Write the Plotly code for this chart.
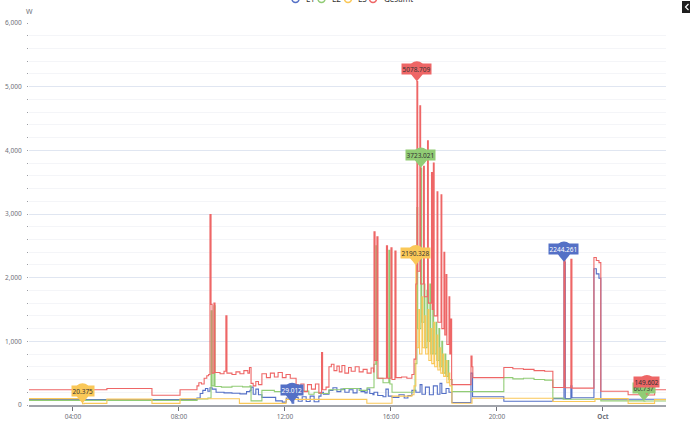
import plotly.graph_objects as go
import pandas as pd

BASE = pd.Timestamp("2023-09-30 00:00")

series_names = ["L1", "L2", "L3", "Gesamt"]
series_colors = ["#5470c6", "#91cc75", "#fac858", "#ee6666"]
label_colors = ["#ffffff", "#333333", "#333333", "#333333"]

# (hour since 30 Sep 00:00, watts) - each value holds until the next sample
l1_points = [
    (2.34, 85), (8.68, 110), (8.80, 180), (8.90, 230), (9.00, 260), (9.09, 215), (9.17, 270),
    (9.25, 250), (9.40, 200), (9.70, 190), (10.00, 185), (10.30, 175), (10.55, 210), (10.68, 230),
    (10.72, 280), (10.80, 170), (10.90, 250), (11.00, 160), (11.13, 120), (11.65, 65), (11.90, 45),
    (12.05, 110), (12.27, 29.012), (12.33, 120), (12.50, 60), (12.65, 130), (12.80, 55), (12.95, 140),
    (13.10, 50), (13.28, 140), (13.36, 200), (13.45, 170), (13.66, 230), (13.81, 270), (13.96, 210),
    (14.11, 250), (14.26, 200), (14.42, 240), (14.57, 190), (14.72, 260), (14.87, 210), (15.02, 190),
    (15.10, 250), (15.20, 180), (15.32, 160), (15.36, 200), (15.50, 150), (15.70, 130), (15.81, 250),
    (15.90, 140), (16.04, 120), (16.30, 160), (16.50, 110), (16.64, 150), (16.79, 230), (16.94, 200),
    (17.10, 320), (17.17, 170), (17.30, 280), (17.45, 160), (17.60, 300), (17.75, 170), (17.85, 340),
    (17.92, 180), (18.08, 260), (18.19, 200), (18.30, 40), (19.02, 500), (19.08, 130), (20.26, 60),
    (22.11, 100), (22.53, 2244.261), (22.58, 100), (22.79, 300), (22.83, 115), (23.66, 2140),
    (23.75, 2060), (23.85, 1990), (23.92, 90), (26.38, 90),
]

l2_points = [
    (2.34, 72), (8.68, 95), (9.09, 110), (9.21, 1480), (9.25, 300), (9.32, 1560), (9.36, 290),
    (9.60, 280), (10.00, 295), (10.40, 285), (10.68, 300), (10.72, 65), (11.13, 230), (11.60, 210),
    (12.00, 225), (12.42, 190), (12.60, 220), (12.90, 170), (13.10, 200), (13.28, 180), (13.66, 240),
    (14.20, 260), (14.80, 230), (15.10, 270), (15.36, 640), (15.43, 2500), (15.47, 420), (15.70, 350),
    (15.92, 2430), (15.96, 330), (16.04, 200), (16.87, 230), (16.91, 650), (16.98, 3100), (17.01, 1200),
    (17.13, 3723.021), (17.16, 1300), (17.25, 1900), (17.28, 900), (17.36, 1800), (17.39, 1000),
    (17.47, 1900), (17.50, 800), (17.58, 1500), (17.61, 800), (17.70, 1300), (17.73, 700),
    (17.81, 1200), (17.84, 600), (17.92, 1000), (17.95, 500), (18.04, 800), (18.07, 450),
    (18.15, 700), (18.18, 400), (18.30, 210), (20.26, 430), (20.60, 410), (21.00, 420), (21.40, 400),
    (21.80, 390), (22.11, 110), (22.50, 90), (23.92, 65), (25.53, 62), (25.55, 60.737), (25.59, 64),
    (26.38, 64),
]

l3_points = [
    (2.34, 100), (4.36, 20.375), (4.42, 25), (5.28, 92), (6.98, 26), (8.04, 98), (10.28, 26),
    (12.04, 88), (15.09, 28), (16.04, 140), (16.79, 160), (16.87, 300), (16.94, 2190.328),
    (16.97, 900), (17.05, 1500), (17.08, 800), (17.17, 1700), (17.20, 900), (17.28, 1400),
    (17.31, 800), (17.40, 1500), (17.43, 700), (17.51, 1200), (17.54, 650), (17.62, 1300),
    (17.65, 600), (17.74, 1100), (17.77, 550), (17.85, 900), (17.88, 500), (17.96, 800),
    (17.99, 450), (18.08, 700), (18.11, 350), (18.19, 500), (18.22, 300), (18.30, 28), (19.06, 105),
    (22.11, 55), (23.70, 100), (24.95, 25), (25.95, 85), (26.38, 85),
]

gesamt_points = [
    (2.34, 240), (5.28, 258), (6.98, 152), (8.04, 240), (8.68, 300), (8.75, 350), (8.85, 330),
    (8.95, 420), (9.05, 460), (9.12, 480), (9.17, 2990), (9.21, 1580), (9.25, 500), (9.32, 1600),
    (9.36, 510), (9.55, 490), (9.70, 530), (9.77, 1400), (9.81, 500), (10.00, 480), (10.15, 520),
    (10.30, 490), (10.45, 540), (10.60, 500), (10.66, 590), (10.72, 340), (10.80, 300), (10.90, 370),
    (11.00, 320), (11.13, 490), (11.30, 430), (11.45, 500), (11.60, 440), (11.74, 510), (11.90, 430),
    (12.04, 480), (12.20, 420), (12.42, 320), (12.50, 240), (12.60, 330), (12.72, 210), (12.85, 320),
    (13.00, 250), (13.15, 330), (13.28, 190), (13.38, 822), (13.42, 240), (13.55, 280), (13.66, 600),
    (13.75, 640), (13.85, 540), (13.96, 610), (14.05, 520), (14.15, 620), (14.26, 500), (14.40, 590),
    (14.50, 530), (14.65, 600), (14.80, 520), (14.95, 560), (15.10, 500), (15.25, 580), (15.34, 520),
    (15.36, 2720), (15.40, 700), (15.47, 2640), (15.51, 420), (15.83, 2500), (15.87, 420),
    (16.00, 2470), (16.04, 400), (16.15, 2420), (16.19, 430), (16.40, 440), (16.60, 420),
    (16.79, 480), (16.87, 720), (16.94, 1900), (16.98, 5078.709), (17.01, 2100), (17.09, 4700),
    (17.12, 1900), (17.23, 3750), (17.26, 1700), (17.38, 4150), (17.41, 1600), (17.53, 3650),
    (17.56, 1500), (17.60, 3800), (17.63, 1400), (17.74, 3350), (17.77, 1300), (17.89, 3300),
    (17.92, 1200), (18.00, 2400), (18.03, 1100), (18.08, 2050), (18.11, 950), (18.19, 1700),
    (18.22, 800), (18.26, 1350), (18.29, 400), (18.30, 320), (19.02, 770), (19.06, 600),
    (19.09, 430), (20.26, 590), (20.60, 570), (21.00, 560), (21.40, 540), (21.80, 530),
    (22.11, 275), (22.53, 2390), (22.57, 270), (22.79, 2290), (22.83, 265), (23.66, 2316),
    (23.75, 2270), (23.85, 2237), (23.92, 215), (24.95, 160), (25.66, 149.602), (25.70, 158),
    (25.95, 240), (26.38, 240),
]

all_points = [l1_points, l2_points, l3_points, gesamt_points]

tick_hours = [4, 8, 12, 16, 20, 24]
tick_texts = ["04:00", "08:00", "12:00", "16:00", "20:00", "<b>Oct</b>"]
x_range_hours = [2.34, 26.38]
y_ticks = [0, 1000, 2000, 3000, 4000, 5000, 6000]


def to_time(h):
    return BASE + pd.to_timedelta(h, unit="h")


# plot area in pixels
L, R, T, B = 29, 666, 23, 405
W_FIG, H_FIG = 690, 427


def px_x(px):
    return (px - L) / (R - L)


def px_y(py):
    return (B - py) / (B - T)


fig = go.Figure()
for name, color, pts in zip(series_names, series_colors, all_points):
    hs = [p[0] for p in pts]
    ws = [p[1] for p in pts]
    fig.add_trace(go.Scatter(
        x=[to_time(h) for h in hs], y=ws, mode="lines", name=name,
        line=dict(color=color, width=1.1, shape="hv"), showlegend=False,
    ))

shapes = []
annotations = []

pin_path = ("M 0 0 C -2 4 -7.5 7 -7.5 13 C -7.5 17.5 -4 20.5 0 20.5 "
            "C 4 20.5 7.5 17.5 7.5 13 C 7.5 7 2 4 0 0 Z")
for color, lcolor, pts in zip(series_colors, label_colors, all_points):
    ws = [p[1] for p in pts]
    for idx in (ws.index(max(ws)), ws.index(min(ws))):
        h, w = pts[idx]
        t = to_time(h).strftime("%Y-%m-%d %H:%M:%S")
        shapes.append(dict(type="path", xref="x", yref="y", xsizemode="pixel", ysizemode="pixel",
                           xanchor=t, yanchor=w, path=pin_path, fillcolor=color,
                           line=dict(width=0), layer="above"))
        annotations.append(dict(x=t, y=w, xref="x", yref="y", yshift=13, showarrow=False,
                                text=str(w),
                                font=dict(size=6.5, color=lcolor, family="Noto Sans"),
                                bgcolor=color, borderpad=0.5))

# legend (partially cut at top of the page)
legend_icon_px = [295.5, 321.5, 348, 373]
legend_text_px = [304, 330, 356, 382]
for name, color, cx, tx in zip(series_names, series_colors, legend_icon_px, legend_text_px):
    shapes.append(dict(type="line", xref="paper", yref="paper", x0=px_x(cx - 7), x1=px_x(cx + 7),
                       y0=px_y(-1), y1=px_y(-1), line=dict(color=color, width=1.5)))
    shapes.append(dict(type="circle", xref="paper", yref="paper", xsizemode="pixel", ysizemode="pixel",
                       xanchor=px_x(cx), yanchor=px_y(-1), x0=-3.5, x1=3.5, y0=-3.5, y1=3.5,
                       fillcolor="white", line=dict(color=color, width=1.5)))
    annotations.append(dict(x=px_x(tx), y=px_y(-2), xref="paper", yref="paper", xanchor="left",
                            yanchor="middle", showarrow=False, text=name,
                            font=dict(size=8, color="#333333", family="Noto Sans")))

# axis unit label
annotations.append(dict(x=px_x(29), y=px_y(12), xref="paper", yref="paper", xanchor="center",
                        yanchor="middle", showarrow=False, text="W",
                        font=dict(size=7, color="#6e7079", family="Noto Sans")))

# dark button at the top-right corner of the page
shapes.append(dict(type="rect", xref="paper", yref="paper", x0=px_x(682), x1=px_x(700),
                   y0=px_y(13), y1=px_y(1), fillcolor="#1e1e1e", line=dict(width=0)))
shapes.append(dict(type="path", xref="paper", yref="paper", xsizemode="pixel", ysizemode="pixel",
                   xanchor=px_x(687), yanchor=px_y(7), path="M 1.5 3 L -1.5 0 L 1.5 -3",
                   line=dict(color="white", width=1.2)))

fig.update_layout(
    width=W_FIG, height=H_FIG,
    margin=dict(l=L, r=W_FIG - R, t=T, b=H_FIG - B, autoexpand=False),
    paper_bgcolor="white", plot_bgcolor="white",
    font=dict(family="Noto Sans", size=7, color="#6e7079"),
    shapes=shapes, annotations=annotations, showlegend=False,
    xaxis=dict(
        type="date", range=[to_time(x_range_hours[0]), to_time(x_range_hours[1])],
        tickvals=[to_time(h) for h in tick_hours], ticktext=tick_texts, automargin=False,
        showgrid=False, zeroline=False, showline=True, linecolor="#a0a3aa", linewidth=2,
        ticks="outside", ticklen=4, tickcolor="#6e7079",
        tickfont=dict(size=6.5, color="#6e7079"),
    ),
    yaxis=dict(
        range=[0, 6000], tickvals=y_ticks, tickformat=",", showgrid=True, gridcolor="#e0e6f1",
        gridwidth=1, zeroline=False, showline=False, ticks="outside", ticklen=5, automargin=False,
        tickcolor="rgba(0,0,0,0)", tickfont=dict(size=6.5, color="#6e7079"),
        minor=dict(dtick=200, showgrid=True, gridcolor="#f4f5f8", ticks="outside", ticklen=1.5,
                   tickcolor="#9a9ca3"),
    ),
)

fig.write_html("out.html", config={"displayModeBar": False},
               post_script="document.body.style.margin='0px';")
